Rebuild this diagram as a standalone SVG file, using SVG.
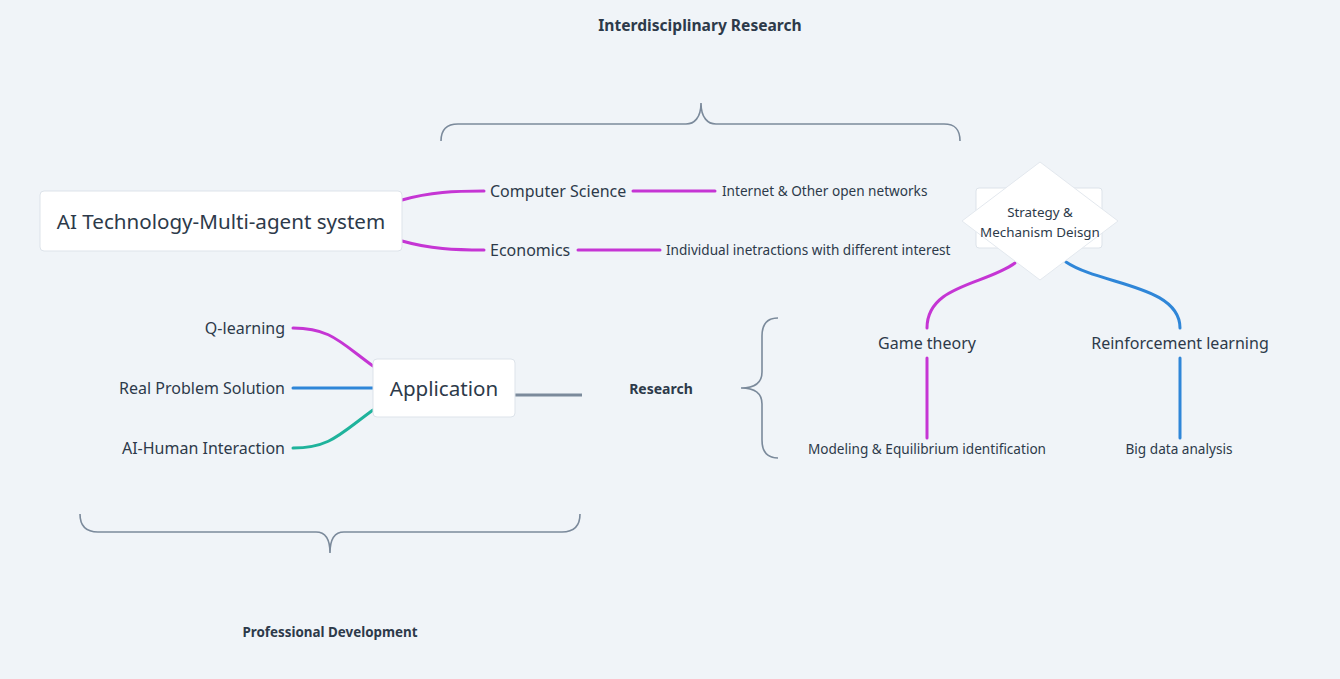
<svg xmlns="http://www.w3.org/2000/svg" width="1340" height="679" viewBox="0 0 1340 679">
<style>
text{font-family:"Noto Sans","Liberation Sans",sans-serif;fill:#2d3a4a}
.node{fill:#fff;stroke:#dde3ea;stroke-width:1}
.t20{font-size:20.6px}
.t16{font-size:16px}
.t14{font-size:13.6px}
.t13{font-size:13.4px}
.b{font-weight:bold}
.m{stroke:#c535d4;stroke-width:3;fill:none;stroke-linecap:round}
.bl{stroke:#2f86d8;stroke-width:3;fill:none;stroke-linecap:round}
.tl{stroke:#1fb39c;stroke-width:3;fill:none;stroke-linecap:round}
.g{stroke:#7b8a9b;stroke-width:3;fill:none}
.br{stroke:#7b8a9b;stroke-width:1.6;fill:none}
</style>
<rect width="1340" height="679" fill="#f0f4f8"/>
<g id="connectors">
<path class="m" d="M402,200 C430,192 455,191 484,191"/>
<path class="m" d="M402,241 C430,249 455,250 484,250"/>
<path class="m" d="M633,191 H715"/>
<path class="m" d="M578,250 H660"/>
<path class="m" d="M1015,263 C985,285 927,285 927,328"/>
<path class="bl" d="M1066,262 C1100,285 1180,285 1180,328"/>
<path class="m" d="M927,358 V438"/>
<path class="bl" d="M1180,358 V438"/>
<path class="m" d="M293,328 C330,328 340,342 373,366"/>
<path class="bl" d="M293,388 H373"/>
<path class="tl" d="M293,448 C330,448 340,434 373,410"/>
<path class="g" d="M515,395 H582"/>
</g>
<g id="brace-top"><path class="br" d="M441,141 C441,130 446,124 458,124 H686 C694,124 701,118 701,103 C701,118 708,124 716,124 H944 C956,124 960,130 960,141"/></g>
<g id="brace-bottom"><path class="br" d="M80,514 C80,526 86,532 98,532 H316 C324,532 330,538 330,553 C330,538 336,532 344,532 H562 C574,532 580,526 580,514"/></g>
<g id="brace-research"><path class="br" d="M778,318 C768,318 762,324 762,336 V372 C762,382 756,388 741,388 C756,388 762,394 762,404 V440 C762,452 768,458 778,458"/></g>
<g id="title-top"><text class="b" x="700" y="31" text-anchor="middle" style="font-size:15.6px">Interdisciplinary Research</text></g>
<g id="title-bottom"><text class="b" x="330" y="637" text-anchor="middle" style="font-size:13.4px">Professional Development</text></g>
<g id="research"><text class="b" x="661" y="394" text-anchor="middle" style="font-size:14px">Research</text></g>
<g id="main"><rect class="node" x="40" y="191" width="362" height="60" rx="4"/><text class="t20" x="221" y="229" text-anchor="middle">AI Technology-Multi-agent system</text></g>
<g id="cs"><text class="t16" x="490" y="197">Computer Science</text></g>
<g id="internet"><text class="t14" x="722" y="196">Internet &amp; Other open networks</text></g>
<g id="econ"><text class="t16" x="490" y="256">Economics</text></g>
<g id="individual"><text class="t14" x="666" y="255">Individual inetractions with different interest</text></g>
<g id="strategy"><rect class="node" x="976" y="188" width="126" height="60" rx="3" stroke="#e6eaef"/><polygon points="1040,162 1118,221 1040,280 962,221" fill="#fff" stroke="#e3e8ee"/><text class="t13" x="1040" y="217" text-anchor="middle">Strategy &amp;</text><text class="t13" x="1040" y="237" text-anchor="middle">Mechanism Deisgn</text></g>
<g id="game"><text class="t16" x="927" y="349" text-anchor="middle">Game theory</text></g>
<g id="rl"><text class="t16" x="1180" y="349" text-anchor="middle">Reinforcement learning</text></g>
<g id="modeling"><text class="t14" x="927" y="454" text-anchor="middle">Modeling &amp; Equilibrium identification</text></g>
<g id="bigdata"><text class="t14" x="1179" y="454" text-anchor="middle">Big data analysis</text></g>
<g id="application"><rect class="node" x="373" y="359" width="142" height="58" rx="4"/><text class="t20" x="444" y="396" text-anchor="middle">Application</text></g>
<g id="qlearning"><text class="t16" x="285" y="334" text-anchor="end">Q-learning</text></g>
<g id="real"><text class="t16" x="285" y="394" text-anchor="end">Real Problem Solution</text></g>
<g id="aihuman"><text class="t16" x="285" y="454" text-anchor="end">AI-Human Interaction</text></g>
</svg>
